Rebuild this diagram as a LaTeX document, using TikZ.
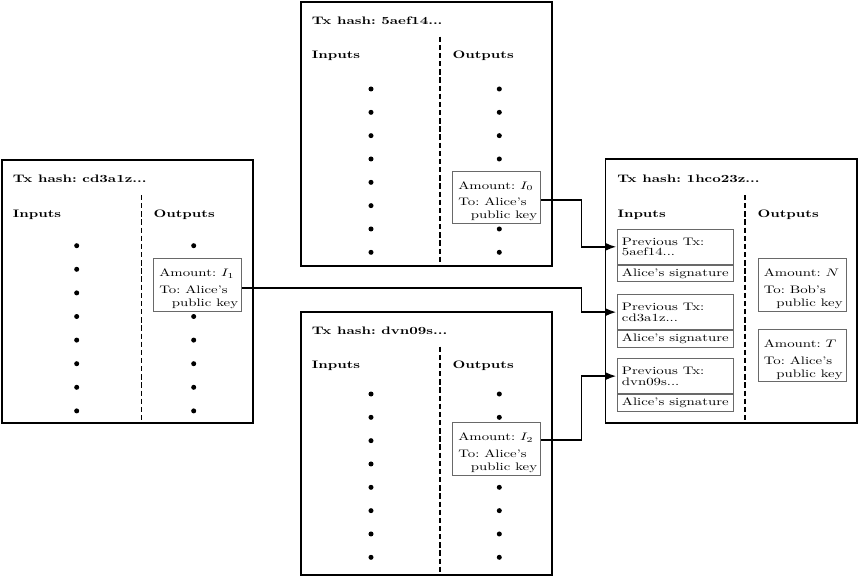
\documentclass[tikz,border=0pt]{standalone}
\usepackage{amsmath,amssymb}
\usepackage{tikz}
\usetikzlibrary{shapes,arrows.meta,positioning,calc}
\usepackage{xcolor}
\definecolor{framegray}{RGB}{105,105,105}
\frenchspacing

\begin{document}
\begin{tikzpicture}[x=0.675pt, y=-0.92pt, yscale=0.7337, >={Latex[length=7.5pt,width=5.5pt]},
    every node/.append style={transform shape}]
    \tikzstyle{txbox} = [draw, line width=1.3pt, anchor=north west, inner sep=0pt, minimum width=169.6pt]
    \tikzstyle{txtitle} = [font=\bfseries, anchor=base west, inner sep=0pt]
    \tikzstyle{colhead} = [font=\bfseries, anchor=base west, inner sep=0pt]
    \tikzstyle{divider} = [line width=1.1pt, dash pattern=on 3.6pt off 1.9pt]
    \tikzstyle{utxo} = [draw=framegray, line width=0.6pt, fill=white, anchor=north west, text width=51.8pt, align=left, inner xsep=3.8pt, inner ysep=2pt]
    \tikzstyle{prevtx} = [draw=framegray, line width=0.6pt, fill=white, anchor=north west, text width=72pt, align=left, inner xsep=3.4pt, inner ysep=0pt, minimum height=32.2pt]
    \tikzstyle{sigbox} = [draw=framegray, line width=0.6pt, fill=white, text width=74pt, align=center, inner xsep=2.4pt, inner ysep=0pt, minimum height=15.6pt]
    \tikzstyle{link} = [->, line width=1.3pt]

    \useasboundingbox (0,0) rectangle (858,577);

    % the four transactions
    \node[txbox, minimum height=242.9pt] (txtop) at (300,1) {};
    \node[txbox, minimum height=242.5pt] (txleft) at (1,159) {};
    \node[txbox, minimum height=242.5pt] (txbot) at (300,311) {};
    \node[txbox, minimum height=242.9pt] (txnew) at (604.5,158.5) {};

    \node[txtitle] (ttop) at (311.7,25) {Tx hash: 5aef14...};
    \node[txtitle] (tleft) at (12.7,182.5) {Tx hash: cd3a1z...};
    \node[txtitle] (tbot) at (311.7,335) {Tx hash: dvn09s...};
    \node[txtitle] (tnew) at (617,182.5) {Tx hash: 1hco23z...};

    \node[colhead] (intop) at (311.7,59) {Inputs};
    \node[colhead] (outtop) at (452.3,59) {Outputs};
    \node[colhead] (inleft) at (12.7,218) {Inputs};
    \node[colhead] (outleft) at (153.3,218) {Outputs};
    \node[colhead] (inbot) at (311.7,368.5) {Inputs};
    \node[colhead] (outbot) at (452.3,368.5) {Outputs};
    \node[colhead] (innew) at (617.3,218) {Inputs};
    \node[colhead] (outnew) at (757.3,218) {Outputs};

    % dashed separators
    \coordinate (dtop) at (440,36.7);
    \coordinate (dleft) at (141.5,195);
    \coordinate (dbot) at (440,346.7);
    \coordinate (dnew) at (745,195);
    \draw[divider] (dtop) -- (dtop |- txtop.south);
    \draw[divider] (dleft) -- (dleft |- txleft.south);
    \draw[divider] (dbot) -- (dbot |- txbot.south);
    \draw[divider] (dnew) -- (dnew |- txnew.south);

    % other inputs and outputs
    \foreach \k in {0,...,7} {
      \fill (371,{89+23.33*\k}) circle[x radius=1.7pt, y radius=2.3pt];
      \fill (499.3,{89+23.33*\k}) circle[x radius=1.7pt, y radius=2.3pt];
      \fill (76.7,{245.7+23.6*\k}) circle[x radius=1.7pt, y radius=2.3pt];
      \fill (193.7,{245.7+23.6*\k}) circle[x radius=1.7pt, y radius=2.3pt];
      \fill (371,{394+23.33*\k}) circle[x radius=1.7pt, y radius=2.3pt];
      \fill (499.3,{394+23.33*\k}) circle[x radius=1.7pt, y radius=2.3pt];
    }

    \node[utxo] (otop) at (452.3,170.7) {\mbox{\rule{0pt}{14.8pt}Amount: $I_0$}\\[3.3pt]\mbox{To: Alice's}\\\mbox{\hspace{8.4pt}public key}};
    \node[utxo] (oleft) at (153.3,258.3) {\mbox{\rule{0pt}{14.8pt}Amount: $I_1$}\\[3.3pt]\mbox{To: Alice's}\\\mbox{\hspace{8.4pt}public key}};
    \node[utxo] (obot) at (452.3,422.3) {\mbox{\rule{0pt}{14.8pt}Amount: $I_2$}\\[3.3pt]\mbox{To: Alice's}\\\mbox{\hspace{8.4pt}public key}};
    \node[utxo] (obob) at (757.8,258.3) {\mbox{\rule{0pt}{14.8pt}Amount: $N$}\\[3.3pt]\mbox{To: Bob's}\\\mbox{\hspace{8.4pt}public key}};
    \node[utxo] (oalice) at (757.8,329) {\mbox{\rule{0pt}{14.8pt}Amount: $T$}\\[3.3pt]\mbox{To: Alice's}\\\mbox{\hspace{8.4pt}public key}};

    \node[prevtx] (prev0) at (616.5,229) {\mbox{Previous Tx:}\\[-2.15pt]\mbox{5aef14...}};
    \node[sigbox, below=0pt of prev0] (sig0) {\mbox{Alice's signature}};
    \node[prevtx] (prev1) at (616.5,294.3) {\mbox{Previous Tx:}\\[-2.15pt]\mbox{cd3a1z...}};
    \node[sigbox, below=0pt of prev1] (sig1) {\mbox{Alice's signature}};
    \node[prevtx] (prev2) at (616.5,358.3) {\mbox{Previous Tx:}\\[-2.15pt]\mbox{dvn09s...}};
    \node[sigbox, below=0pt of prev2] (sig2) {\mbox{Alice's signature}};

    % spending the outputs
    \draw[link] ($(otop.north east)+(0,29.3)$) -| ($(prev0.west)+(-35,0)$) -- (prev0.west);
    \draw[link] ($(oleft.north east)+(0,30)$) -| ($(prev1.west)+(-35,0)$) -- (prev1.west);
    \draw[link] ($(obot.north east)+(0,17.7)$) -| ($(prev2.west)+(-35,0)$) -- (prev2.west);
\end{tikzpicture}
\end{document}
